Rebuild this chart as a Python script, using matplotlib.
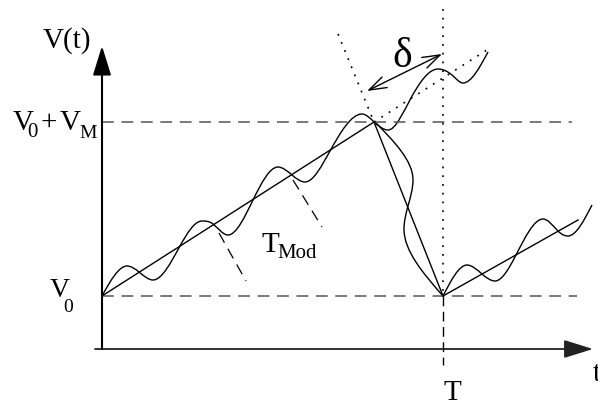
import numpy as np
import matplotlib
matplotlib.use("Agg")
import matplotlib.pyplot as plt
from matplotlib.path import Path
from matplotlib.patches import PathPatch

plt.rcParams["font.family"] = ["Liberation Serif", "DejaVu Serif"]
plt.rcParams["lines.scale_dashes"] = False

# Geometry, in its own pixel frame (x right, y down).
axis_origin = (102, 350)
x_axis_start = 95
x_axis_tip = 593
y_axis_tip = 47

v0_level = 297          # V0
vm_level = 123          # V0 + VM
t_mark = 443            # T
v0_line_end = 577
vm_line_end = 572

# triangle: ramp up, fall, next ramp
ramp_up = [(102, 297), (374, 123)]
ramp_down = [(374, 123), (443, 297)]
ramp_next = [(443, 297), (578, 221)]

# modulated signal: crossing, extreme, crossing, extreme, ...
wave_up = [(102, 297), (127, 267), (139, 273), (153, 281), (180, 247),
           (202, 222), (213, 225), (228, 236), (253, 201), (278, 168),
           (292, 176), (305, 183), (330, 152), (362, 115), (374, 123)]
wave_late = [(374, 123), (388, 131), (411, 99), (438, 70), (452, 76),
             (463, 84), (488, 53)]
wave_fall = [(375, 123), (413, 181), (408, 207), (404, 230), (443, 297)]
wave_next = [(443, 297), (467, 266), (482, 275), (495, 282), (516, 256),
             (543, 220), (558, 232), (568, 237), (592, 206)]

# dotted extensions at the peak, and the delay arrow
ext_fall = [(338, 35), (374, 123)]
ext_rise = [(374, 123), (490, 49)]
delta_arrow = [(367, 92), (442, 55)]

# modulation period markers
tmod_a = [(219, 234), (246, 282)]
tmod_b = [(293, 181), (322, 228)]


def smooth_path(points, along="x", factor=1.5):
    # cubic pieces through the listed points; odd entries are turning points
    pts = np.asarray(points, dtype=float)
    if along == "y":
        pts = pts[:, ::-1]
    n = len(pts)
    slopes = np.zeros(n)
    for i in range(0, n, 2):
        a = pts[max(i - 1, 0)]
        b = pts[min(i + 1, n - 1)]
        slopes[i] = factor * (b[1] - a[1]) / (b[0] - a[0])
    verts = [pts[0]]
    codes = [Path.MOVETO]
    for i in range(n - 1):
        p0, p1 = pts[i], pts[i + 1]
        d = (p1[0] - p0[0]) / 3.0
        verts += [(p0[0] + d, p0[1] + slopes[i] * d),
                  (p1[0] - d, p1[1] - slopes[i + 1] * d),
                  tuple(p1)]
        codes += [Path.CURVE4] * 3
    verts = np.asarray(verts, dtype=float)
    if along == "y":
        verts = verts[:, ::-1]
    return Path(verts, codes)


def seg(ax, pts, **kw):
    xs, ys = zip(*pts)
    ax.plot(xs, ys, **kw)


fig = plt.figure(figsize=(5.98, 4.02), dpi=100)
ax = fig.add_axes([0, 0, 1, 1])
ax.set_xlim(0, 598)
ax.set_ylim(402, 0)
ax.axis("off")

dash = (0, (8.5, 5.5))
dot = (0, (1.3, 5.0))

# reference levels
ax.plot([axis_origin[0], v0_line_end], [v0_level, v0_level],
        color="#555555", lw=1.1, linestyle=dash)
ax.plot([axis_origin[0], vm_line_end], [vm_level, vm_level],
        color="#555555", lw=1.1, linestyle=dash)

# vertical at T: dotted above V0, dashed below
ax.plot([t_mark, t_mark], [10, v0_level], color="black", lw=1.2, linestyle=dot)
ax.plot([t_mark, t_mark], [v0_level, 366], color="black", lw=1.0,
        linestyle=(0, (7, 4)))

# axes with arrows
ax.annotate("", xy=(x_axis_tip, axis_origin[1]), xytext=(x_axis_start, axis_origin[1]),
            arrowprops=dict(arrowstyle="-|>,head_length=0.9,head_width=0.28",
                            mutation_scale=20, color="#222222", lw=1.3,
                            shrinkA=0, shrinkB=0))
ax.annotate("", xy=(axis_origin[0], y_axis_tip), xytext=(axis_origin[0], axis_origin[1]),
            arrowprops=dict(arrowstyle="-|>,head_length=0.9,head_width=0.28",
                            mutation_scale=20, color="black", lw=1.5,
                            shrinkA=0, shrinkB=0))

# triangle signal
for pts in (ramp_up, ramp_down, ramp_next):
    seg(ax, pts, color="black", lw=1.0)

# modulated signal
for pts, along in ((wave_up, "x"), (wave_late, "x"), (wave_fall, "y"), (wave_next, "x")):
    ax.add_patch(PathPatch(smooth_path(pts, along), facecolor="none",
                           edgecolor="black", lw=1.0))

# dotted extensions
for pts in (ext_fall, ext_rise):
    seg(ax, pts, color="black", lw=1.2, linestyle=dot)

# period markers
for pts in (tmod_a, tmod_b):
    seg(ax, pts, color="black", lw=0.9, linestyle=(0, (8, 5)))

# delay arrow
ax.annotate("", xy=delta_arrow[1], xytext=delta_arrow[0],
            arrowprops=dict(arrowstyle="<->,head_length=0.9,head_width=0.3",
                            mutation_scale=14, color="black", lw=1.0,
                            shrinkA=0, shrinkB=0))

# labels
big = 21
ax.text(43, 48, "V(t)", fontsize=big, ha="left", va="baseline")

ax.text(13, 130, "V", fontsize=big, ha="left", va="baseline")
ax.text(27.5, 137, "0", fontsize=15, ha="left", va="baseline")
ax.text(40.5, 130, "+", fontsize=big, ha="left", va="baseline")
ax.text(60, 130, "V", fontsize=big, ha="left", va="baseline")
ax.text(79, 138, "M", fontsize=14, ha="left", va="baseline")

ax.text(50, 297, "V", fontsize=20, ha="left", va="baseline")
ax.text(63, 312, "0", fontsize=14, ha="left", va="baseline")

ax.text(262, 252, "T", fontsize=big, ha="left", va="baseline")
ax.text(277, 258, "Mod", fontsize=15, ha="left", va="baseline")

ax.text(443, 400, "T", fontsize=big, ha="left", va="baseline")
ax.text(593, 381, "t", fontsize=big, ha="left", va="baseline")

ax.text(402.5, 67, "δ", fontsize=30, ha="center", va="baseline")

fig.savefig("out.png", dpi=100)
